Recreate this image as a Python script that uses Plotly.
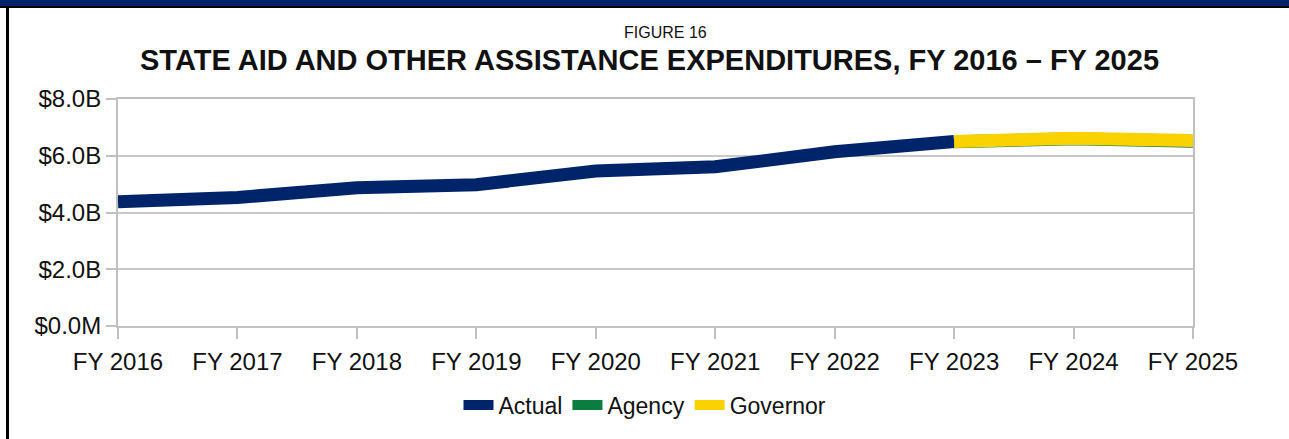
import plotly.graph_objects as go

years = ["FY 2016", "FY 2017", "FY 2018", "FY 2019", "FY 2020",
         "FY 2021", "FY 2022", "FY 2023", "FY 2024", "FY 2025"]
actual = [4.38, 4.53, 4.87, 4.98, 5.46, 5.61, 6.14, 6.50, None, None]
agency = [None, None, None, None, None, None, None, 6.49, 6.60, 6.51]
governor = [None, None, None, None, None, None, None, 6.50, 6.62, 6.54]

ytick_vals = [0, 2, 4, 6, 8]
ytick_text = ["$0.0M", "$2.0B", "$4.0B", "$6.0B", "$8.0B"]

NAVY = "#00246a"
GREEN = "#0b7d40"
YELLOW = "#fad200"
FONT = "Liberation Sans, Arial, sans-serif"

W, H = 1289, 439
ML, MR, MT, MB = 118, 96, 99, 113
PW, PH = W - ML - MR, H - MT - MB

def px_x(px):
    return (px - ML) / PW

def px_y(py):
    return (H - MB - py) / PH

fig = go.Figure()
fig.add_trace(go.Scatter(x=years, y=actual, name="Actual", mode="lines",
                         line=dict(color=NAVY, width=13)))
fig.add_trace(go.Scatter(x=years, y=agency, name="Agency", mode="lines",
                         line=dict(color=GREEN, width=13)))
fig.add_trace(go.Scatter(x=years, y=governor, name="Governor", mode="lines",
                         line=dict(color=YELLOW, width=13)))

fig.update_layout(
    width=W, height=H,
    margin=dict(l=ML, r=MR, t=MT, b=MB),
    paper_bgcolor="white", plot_bgcolor="white",
    font=dict(family=FONT, color="#111111", size=24),
    showlegend=True,
    legend=dict(orientation="h", x=px_x(645), xanchor="center", y=px_y(405), yanchor="middle",
                font=dict(size=23), itemwidth=30, traceorder="normal",
                bgcolor="rgba(0,0,0,0)", tracegroupgap=0),
    xaxis=dict(type="category", range=[0, 9], showgrid=False,
               showline=True, linecolor="#c0c0c0", linewidth=2, mirror=True,
               ticks="outside", ticklen=11, tickcolor="#c0c0c0", tickwidth=2,
               tickfont=dict(size=24), ticklabelstandoff=2, fixedrange=True),
    yaxis=dict(range=[0, 8], tickvals=ytick_vals, ticktext=ytick_text,
               showgrid=True, gridcolor="#c8c8c8", gridwidth=2,
               showline=True, linecolor="#c0c0c0", linewidth=2, mirror=True,
               ticks="outside", ticklen=10, tickcolor="#c0c0c0", tickwidth=2,
               tickfont=dict(size=24), zeroline=False, fixedrange=True),
    annotations=[
        dict(text="FIGURE 16", x=px_x(665), y=px_y(33), xref="paper", yref="paper",
             xanchor="center", yanchor="middle", showarrow=False,
             font=dict(size=16, family=FONT, color="#111111")),
        dict(text="<b>STATE AID AND OTHER ASSISTANCE EXPENDITURES, FY 2016 – FY 2025</b>",
             x=px_x(649), y=px_y(60), xref="paper", yref="paper",
             xanchor="center", yanchor="middle", showarrow=False,
             font=dict(size=29, family=FONT, color="#111111")),
    ],
    shapes=[
        dict(type="rect", xref="paper", yref="paper",
             x0=px_x(0), x1=px_x(W), y0=px_y(0), y1=px_y(6),
             fillcolor=NAVY, line=dict(width=0), layer="above"),
        dict(type="rect", xref="paper", yref="paper",
             x0=px_x(0), x1=px_x(W), y0=px_y(6), y1=px_y(8),
             fillcolor="black", line=dict(width=0), layer="above"),
        dict(type="rect", xref="paper", yref="paper",
             x0=px_x(6), x1=px_x(9), y0=px_y(8), y1=px_y(H),
             fillcolor="black", line=dict(width=0), layer="above"),
    ],
)

fig.write_html("out.html", config={"displayModeBar": False})
